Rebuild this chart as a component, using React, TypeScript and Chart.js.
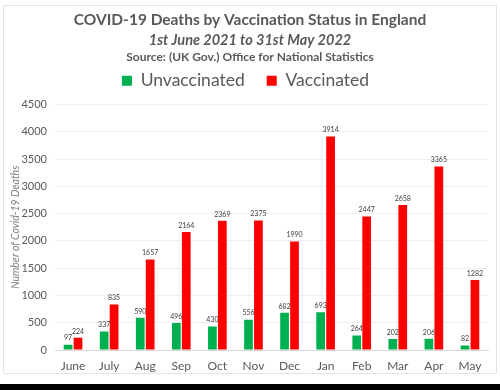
import React, { useEffect, useRef } from "react";
import { Chart, registerables } from "chart.js";

Chart.register(...registerables);

const months = ["June", "July", "Aug", "Sep", "Oct", "Nov", "Dec", "Jan", "Feb", "Mar", "Apr", "May"];
const unvaccinated = [97, 337, 590, 496, 430, 556, 682, 693, 264, 202, 206, 82];
const vaccinated = [224, 835, 1657, 2164, 2369, 2375, 1990, 3914, 2447, 2658, 3365, 1282];
const seriesNames = ["Unvaccinated", "Vaccinated"];
const titleLine = "COVID-19 Deaths by Vaccination Status in England";
const subtitleLine = "1st June 2021 to 31st May 2022";
const sourceLine = "Source: (UK Gov.) Office for National Statistics";
const yAxisTitle = "Number of Covid-19 Deaths";
const yMax = 4500;
const yStep = 500;

const FONT = "Lato";
const GREY = "#595959";

const framePlugin = {
  id: "frame",
  beforeDraw(chart: any) {
    const ctx = chart.ctx;
    ctx.save();
    ctx.fillStyle = "#ffffff";
    ctx.fillRect(0, 0, chart.width, chart.height);
    ctx.strokeStyle = "#e3e3e3";
    ctx.lineWidth = 1;
    ctx.strokeRect(3.5, 5.5, 493, 368);
    ctx.fillStyle = "#000000";
    ctx.fillRect(0, 384, chart.width, chart.height - 384);
    ctx.restore();
  },
  afterDraw(chart: any) {
    const ctx = chart.ctx;
    ctx.save();
    ctx.fillStyle = GREY;
    ctx.textAlign = "center";
    ctx.textBaseline = "middle";
    ctx.font = `bold 15.5px ${FONT}`;
    ctx.fillText(titleLine, 250, 20);
    ctx.font = `italic bold 14.5px ${FONT}`;
    ctx.fillText(subtitleLine, 250, 40);
    ctx.font = `bold 12px ${FONT}`;
    ctx.fillText(sourceLine, 250, 57);
    ctx.restore();
  },
};

const valueLabelPlugin = {
  id: "valueLabels",
  afterDatasetsDraw(chart: any) {
    const ctx = chart.ctx;
    ctx.save();
    ctx.fillStyle = "#404040";
    ctx.font = `7px ${FONT}`;
    ctx.textAlign = "center";
    ctx.textBaseline = "bottom";
    chart.data.datasets.forEach((ds: any, di: number) => {
      const meta = chart.getDatasetMeta(di);
      meta.data.forEach((el: any, i: number) => {
        ctx.fillText(String(ds.data[i]), el.x, el.y - 3);
      });
    });
    ctx.restore();
  },
};

export default function App() {
  const ref = useRef<HTMLCanvasElement | null>(null);
  useEffect(() => {
    if (!ref.current) return;
    const chart = new Chart(ref.current, {
      type: "bar",
      data: {
        labels: months,
        datasets: [
          {
            label: seriesNames[0],
            data: unvaccinated,
            backgroundColor: "#00B050",
            categoryPercentage: 0.55,
            barPercentage: 0.88,
          },
          {
            label: seriesNames[1],
            data: vaccinated,
            backgroundColor: "#FF0000",
            categoryPercentage: 0.55,
            barPercentage: 0.88,
          },
        ],
      },
      options: {
        animation: false,
        responsive: false,
        maintainAspectRatio: false,
        layout: { padding: { top: 50, left: 3, right: 12, bottom: 14 } },
        plugins: {
          title: { display: false },
          tooltip: { enabled: false },
          legend: {
            display: true,
            position: "top",
            labels: {
              color: GREY,
              font: { family: FONT, size: 17.5 },
              boxWidth: 10,
              boxHeight: 10,
              padding: 22,
            },
          },
        },
        scales: {
          x: {
            grid: { display: false },
            border: { display: true, color: "#d9d9d9" },
            ticks: { color: GREY, font: { family: FONT, size: 12 }, padding: 1 },
            afterFit: (s: any) => {
              s.height = 26;
            },
          },
          xTop: {
            type: "category",
            position: "top",
            labels: months,
            display: true,
            grid: { display: false },
            border: { display: false },
            ticks: { display: false },
            afterFit: (s: any) => {
              s.height = 5;
            },
          },
          y: {
            min: 0,
            max: yMax,
            ticks: {
              stepSize: yStep,
              color: GREY,
              font: { family: FONT, size: 11 },
              padding: 8,
              callback: (v: any) => String(v),
            },
            grid: { color: "#eeeeee", drawTicks: false },
            border: { display: false },
            title: {
              display: true,
              text: yAxisTitle,
              color: "#7f7f7f",
              font: { family: FONT, size: 10.5, style: "italic" },
              padding: { top: 6, bottom: 0 },
            },
            afterFit: (s: any) => {
              s.width = 52;
            },
          },
        },
      },
      plugins: [framePlugin, valueLabelPlugin],
    });
    return () => chart.destroy();
  }, []);
  return (
    <div style={{ position: "absolute", left: 0, top: 0, width: 500, height: 390 }}>
      <canvas ref={ref} width={500} height={390} style={{ display: "block" }} />
    </div>
  );
}
